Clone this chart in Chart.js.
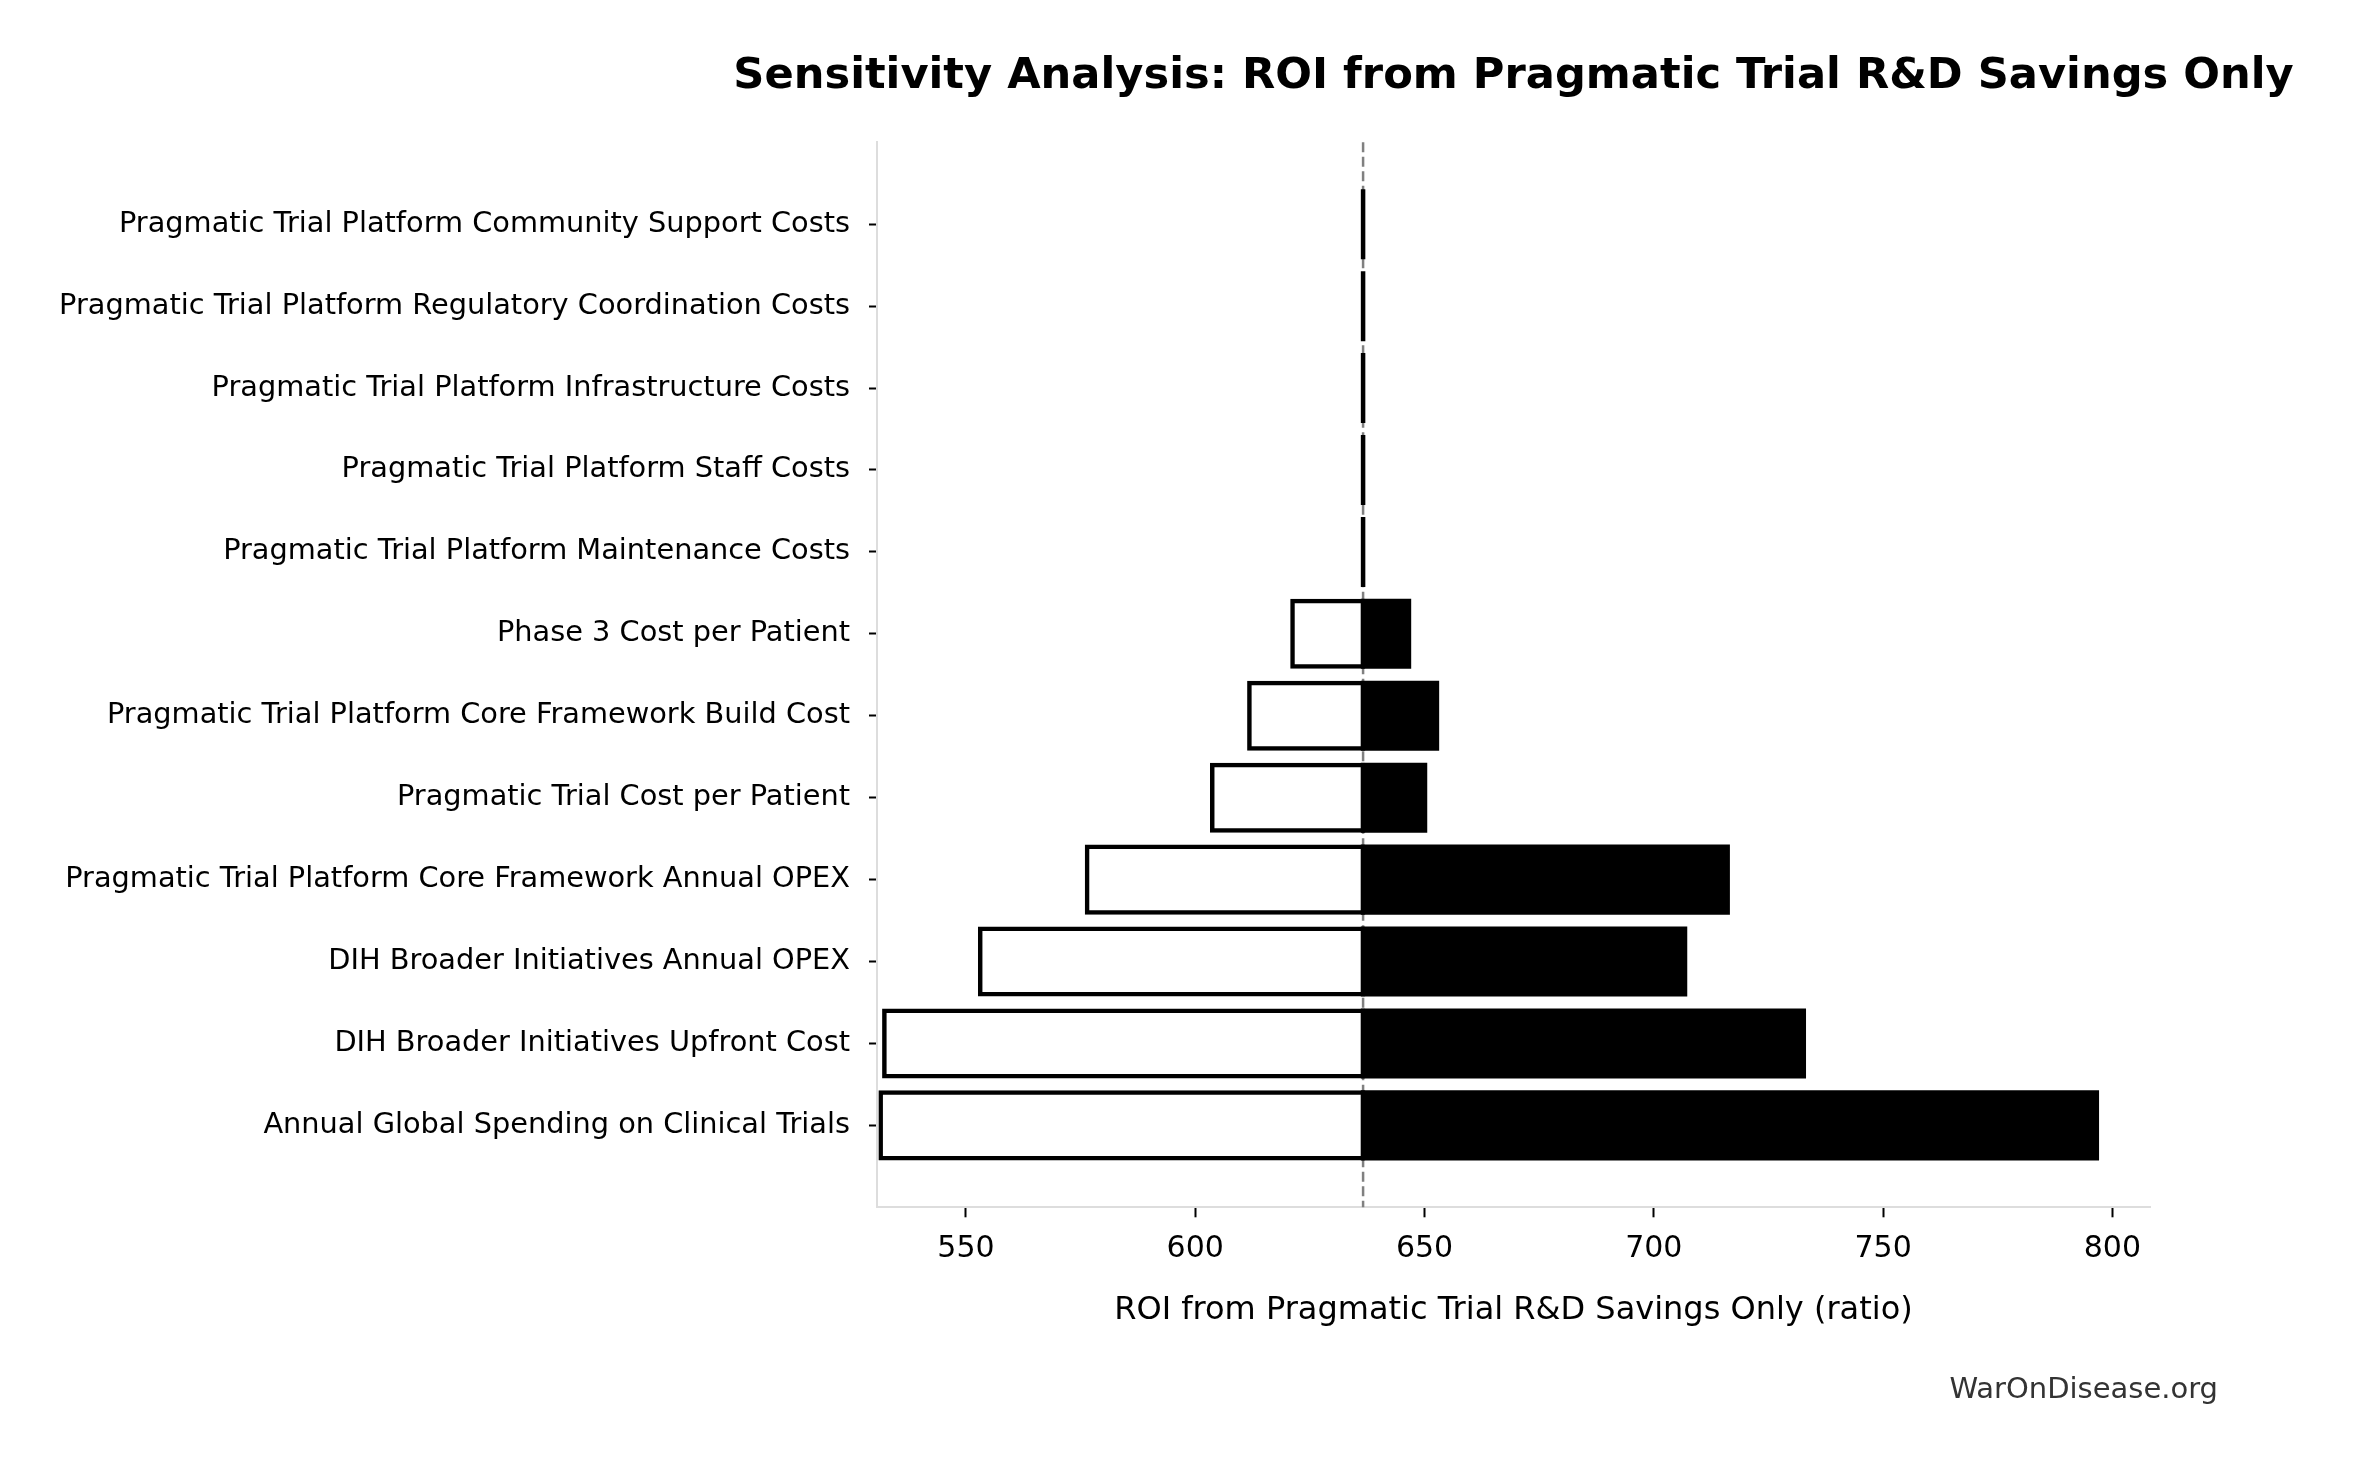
<!DOCTYPE html>
<html>
<head>
<meta charset="utf-8">
<script src="https://cdn.jsdelivr.net/npm/chart.js@4.4.1/dist/chart.umd.min.js"></script>
<style>
  html, body { margin: 0; padding: 0; background: #fff; }
  canvas { display: block; }
</style>
</head>
<body>
<canvas id="grafico" width="2353" height="1463"></canvas>
<script>
// categorias de cima para baixo
const categories = [
  'Pragmatic Trial Platform Community Support Costs',
  'Pragmatic Trial Platform Regulatory Coordination Costs',
  'Pragmatic Trial Platform Infrastructure Costs',
  'Pragmatic Trial Platform Staff Costs',
  'Pragmatic Trial Platform Maintenance Costs',
  'Phase 3 Cost per Patient',
  'Pragmatic Trial Platform Core Framework Build Cost',
  'Pragmatic Trial Cost per Patient',
  'Pragmatic Trial Platform Core Framework Annual OPEX',
  'DIH Broader Initiatives Annual OPEX',
  'DIH Broader Initiatives Upfront Cost',
  'Annual Global Spending on Clinical Trials'
];

const baseRoi = 636.6;
const lowRoi = [636.6, 636.6, 636.6, 636.6, 636.6, 621.2, 611.8, 603.7, 576.4, 553.1, 532.2, 531.4];
const highRoi = [636.6, 636.6, 636.6, 636.6, 636.6, 646.6, 652.7, 650.1, 716.1, 706.8, 732.7, 796.6];
const xTicks = [550, 600, 650, 700, 750, 800];

const titulo = 'Sensitivity Analysis: ROI from Pragmatic Trial R&D Savings Only';
const tituloEixo = 'ROI from Pragmatic Trial R&D Savings Only (ratio)';
const marca = 'WarOnDisease.org';

const familia = '"DejaVu Sans"';
Chart.defaults.font.family = familia;
Chart.defaults.color = '#000';

// linha tracejada do caso base, por baixo das barras
const linhaBase = {
  id: 'linhaBase',
  beforeDatasetsDraw(chart) {
    const { ctx, chartArea, scales } = chart;
    const x = scales.x.getPixelForValue(baseRoi);
    ctx.save();
    ctx.strokeStyle = '#808080';
    ctx.lineWidth = 2.5;
    ctx.setLineDash([10, 4.5]);
    ctx.beginPath();
    ctx.moveTo(x, chartArea.top);
    ctx.lineTo(x, chartArea.bottom);
    ctx.stroke();
    ctx.restore();
  }
};

// titulo centrado na area do grafico (o plugin title comprime o texto)
const tituloTopo = {
  id: 'tituloTopo',
  afterDraw(chart) {
    const { ctx, chartArea } = chart;
    ctx.save();
    ctx.font = 'bold 43.2px ' + familia;
    ctx.fillStyle = '#000';
    ctx.textAlign = 'center';
    ctx.textBaseline = 'middle';
    ctx.fillText(titulo, (chartArea.left + chartArea.right) / 2, 76.5);
    ctx.restore();
  }
};

const marcaDagua = {
  id: 'marcaDagua',
  afterDraw(chart) {
    const ctx = chart.ctx;
    ctx.save();
    ctx.font = '29px ' + familia;
    ctx.fillStyle = '#333333';
    ctx.textAlign = 'right';
    ctx.textBaseline = 'middle';
    ctx.fillText(marca, chart.width - 135, 1390);
    ctx.restore();
  }
};

new Chart(document.getElementById('grafico'), {
  type: 'bar',
  data: {
    datasets: [
      {
        label: 'High',
        data: highRoi.map((v, i) => ({ x: [baseRoi, v], y: i })),
        backgroundColor: '#000000',
        borderColor: '#000000',
        borderWidth: 0,
        order: 0
      },
      {
        label: 'Low',
        data: lowRoi.map((v, i) => ({ x: [v, baseRoi], y: i })),
        backgroundColor: '#ffffff',
        borderColor: '#000000',
        borderWidth: 4.5,
        order: 1
      }
    ]
  },
  options: {
    indexAxis: 'y',
    responsive: false,
    animation: false,
    devicePixelRatio: 1,
    layout: { padding: { left: 0, right: 203, top: 142.3, bottom: 0 } },
    datasets: {
      bar: {
        borderSkipped: false,
        categoryPercentage: 0.8,
        barPercentage: 1,
        inflateAmount: 2.25
      }
    },
    scales: {
      x: {
        type: 'linear',
        min: 530.6,
        max: 808.2,
        afterBuildTicks: (s) => { s.ticks = xTicks.map(v => ({ value: v })); },
        afterFit: (s) => { s.height = 255.7; },
        grid: { drawOnChartArea: false, drawTicks: true, tickLength: 10, tickWidth: 2, tickColor: '#000' },
        border: { display: true, color: '#dddddd', width: 2 },
        ticks: { font: { family: familia, size: 30 }, padding: 14, color: '#000' },
        title: {
          display: true,
          text: tituloEixo,
          color: '#000',
          font: { family: familia, size: 32 },
          padding: { top: 0, bottom: 133 }
        }
      },
      y: {
        type: 'linear',
        reverse: true,
        stacked: true,
        offset: false,
        min: -1,
        max: 12,
        afterBuildTicks: (s) => { s.ticks = categories.map((_, i) => ({ value: i })); },
        afterFit: (s) => { s.width = 877; },
        grid: { offset: false, drawOnChartArea: false, drawTicks: true, tickLength: 8, tickWidth: 2, tickColor: '#000' },
        border: { display: true, color: '#dddddd', width: 2 },
        ticks: {
          autoSkip: false,
          font: { family: familia, size: 28.8 },
          padding: 19,
          color: '#000',
          callback: (v) => categories[v]
        }
      }
    },
    plugins: {
      legend: { display: false },
      tooltip: { enabled: false },
      title: { display: false }
    }
  },
  plugins: [linhaBase, tituloTopo, marcaDagua]
});
</script>
</body>
</html>
